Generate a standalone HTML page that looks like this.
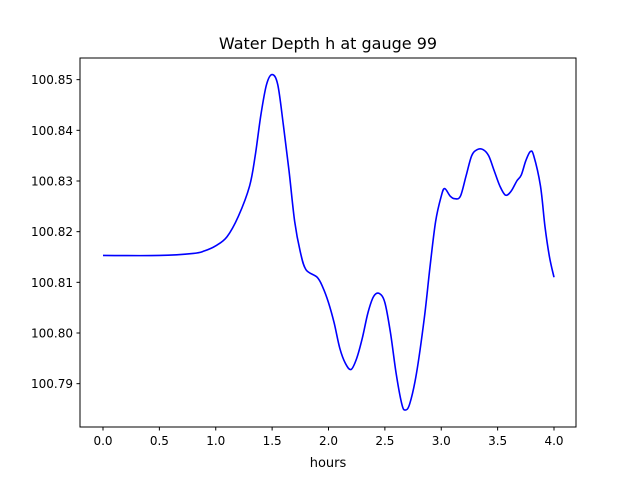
<!DOCTYPE html>
<html><head><meta charset="utf-8"><style>
body{margin:0;background:#fff}
svg text{font-family:"DejaVu Sans","Liberation Sans",sans-serif;fill:#000}
</style></head><body>
<svg id="chart" width="640" height="480">
<rect x="0" y="0" width="640" height="480" fill="#fff"/>
<text x="328" y="49" font-size="16" text-anchor="middle">Water Depth h at gauge 99</text>
<g id="plot"></g>
<rect x="80" y="58" width="496" height="369" fill="none" stroke="#000" stroke-width="1"/>
<text x="328" y="467" font-size="13" text-anchor="middle">hours</text>
</svg>
<script>
const times=[0,0.5,0.8,0.9,1.0,1.1,1.2,1.3,1.35,1.4,1.45,1.5,1.55,1.6,1.65,1.7,1.75,1.8,1.9,1.95,2.0,2.05,2.1,2.15,2.2,2.25,2.3,2.35,2.4,2.45,2.5,2.55,2.6,2.65,2.68,2.72,2.78,2.85,2.9,2.95,3.0,3.03,3.08,3.12,3.17,3.22,3.27,3.32,3.37,3.42,3.47,3.52,3.57,3.62,3.67,3.71,3.75,3.79,3.82,3.88,3.92,3.96,4.0];
const depths=[100.8153,100.8153,100.8157,100.8162,100.8172,100.819,100.823,100.829,100.835,100.843,100.849,100.851,100.849,100.841,100.832,100.822,100.816,100.8125,100.811,100.809,100.806,100.802,100.797,100.794,100.7928,100.795,100.799,100.804,100.8072,100.8078,100.806,100.800,100.792,100.786,100.7848,100.786,100.792,100.803,100.813,100.822,100.827,100.8285,100.827,100.8265,100.827,100.831,100.835,100.8362,100.8362,100.835,100.832,100.829,100.8272,100.828,100.830,100.8312,100.834,100.8358,100.835,100.829,100.821,100.815,100.811];
const xTicks=[0.0,0.5,1.0,1.5,2.0,2.5,3.0,3.5,4.0];
const xTickLabels=["0.0","0.5","1.0","1.5","2.0","2.5","3.0","3.5","4.0"];
const yTicks=[100.79,100.80,100.81,100.82,100.83,100.84,100.85];
const yTickLabels=["100.79","100.80","100.81","100.82","100.83","100.84","100.85"];
const NS="http://www.w3.org/2000/svg";
const g=document.getElementById('plot');
const X=t=>103+t*112.75;
const Y=h=>333-(h-100.80)*5067;
function el(tag,attrs){const e=document.createElementNS(NS,tag);for(const k in attrs)e.setAttribute(k,attrs[k]);g.appendChild(e);return e;}
xTicks.forEach((t,i)=>{
 const l=el('line',{x1:X(t),x2:X(t),y1:427,y2:430.5,stroke:'#000'});
 
 
 const tx=el('text',{x:X(t),y:445,'font-size':12,'text-anchor':'middle'});
 tx.textContent=xTickLabels[i];
 
 
});
yTicks.forEach((v,i)=>{
 const l=el('line',{x1:76.5,x2:80,y1:Y(v),y2:Y(v),stroke:'#000'});
 
 
 const tx=el('text',{x:73,y:Y(v)+4.5,'font-size':12,'text-anchor':'end'});
 tx.textContent=yTickLabels[i];
 
 
});
// smooth path through points (Catmull-Rom)
const pts=times.map((t,i)=>[X(t),Y(depths[i])]);
let d='M'+pts[0][0]+','+pts[0][1];
for(let i=0;i<pts.length-1;i++){
 const p0=pts[Math.max(0,i-1)],p1=pts[i],p2=pts[i+1],p3=pts[Math.min(pts.length-1,i+2)];
 const c1=[p1[0]+(p2[0]-p0[0])/6,p1[1]+(p2[1]-p0[1])/6];
 const c2=[p2[0]-(p3[0]-p1[0])/6,p2[1]-(p3[1]-p1[1])/6];
 d+=' C'+c1+' '+c2+' '+p2;
}
const line=el('path',{d:d,fill:'none',stroke:'#0000ff','stroke-width':1.6});


</script>
</body></html>
